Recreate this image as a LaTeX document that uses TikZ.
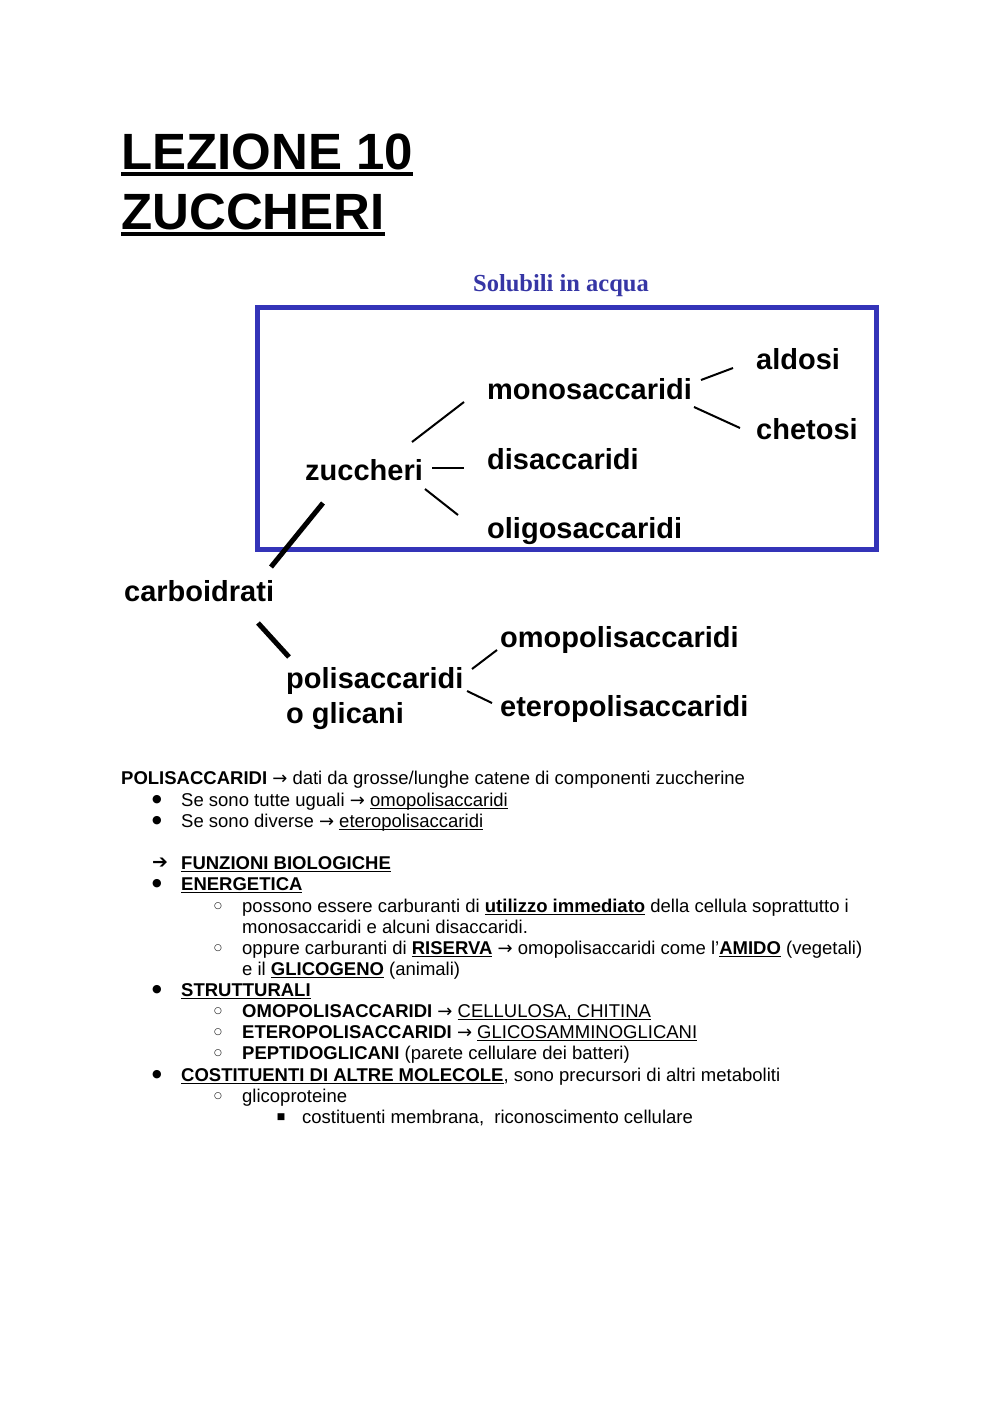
\documentclass[tikz,border=0pt]{standalone}
\usepackage{fontspec}
\setmainfont{Liberation Sans}
\newfontfamily\serifbf{Liberation Serif}
\newfontfamily\dejavu{DejaVu Sans}
\definecolor{boxblue}{RGB}{52,52,184}
\definecolor{txtblue}{RGB}{54,54,165}
\newcommand\ulin[2][1.1pt]{\mbox{\setbox0\hbox{#2}\rlap{\rule[-3.2pt]{\wd0}{#1}}\box0}}
\newcommand\ulti[1]{\mbox{\setbox0\hbox{#1}\rlap{\rule[-7pt]{\wd0}{4pt}}\box0}}
\newcommand\arr{{\dejavu\fontsize{18}{18}\selectfont →}}
\begin{document}
\begin{tikzpicture}[x=1pt,y=-1pt,
  title/.style={anchor=base west, inner sep=0pt, font=\fontsize{51}{60}\selectfont\bfseries},
  lbl/.style={anchor=base west, inner sep=0pt, font=\fontsize{29}{35}\selectfont\bfseries},
  link/.style={line width=2pt, line cap=butt},
  heavylink/.style={line width=5pt},
  body/.style={anchor=base west, inner sep=0pt, font=\fontsize{18.5}{21}\selectfont},
  bul/.style={anchor=center, inner sep=0pt, font=\dejavu\fontsize{11}{11}\selectfont},
  sbul/.style={anchor=center, inner sep=0pt, font=\dejavu\fontsize{9}{9}\selectfont},
]
\useasboundingbox (0,0) rectangle (1000,1413);

% Title
\node[title] (t1) at (121,169) {\ulti{LEZIONE 10}};
\node[title] (t2) at (121,229) {\ulti{ZUCCHERI}};

% Box
\node[anchor=base, inner sep=0pt, text=txtblue, font=\serifbf\fontsize{24.5}{28}\selectfont\bfseries] (sol) at (561,291) {Solubili in acqua};
\draw[boxblue, line width=5pt] (257,307) rectangle (876,549);

% Labels
\node[lbl] (ald) at (756,369) {aldosi};
\node[lbl] (mono) at (487,399) {monosaccaridi};
\node[lbl] (chet) at (756,439) {chetosi};
\node[lbl] (dis) at (487,469) {disaccaridi};
\node[lbl] (zuc) at (305,480) {zuccheri};
\node[lbl] (oli) at (487,538) {oligosaccaridi};
\node[lbl] (carb) at (124,601) {carboidrati};
\node[lbl, align=left] (poli) at (286,723) {polisaccaridi\\[-0.5pt]o glicani};
\node[lbl] (omo) at (500,647) {omopolisaccaridi};
\node[lbl] (ete) at (500,716) {eteropolisaccaridi};

% connector end points
\coordinate (m-a1) at (701,380); \coordinate (m-a2) at (733,368);
\coordinate (m-c1) at (694,407); \coordinate (m-c2) at (740,428);
\coordinate (z-m1) at (412,442); \coordinate (z-m2) at (464,402);
\coordinate (z-d1) at (432,468); \coordinate (z-d2) at (464,468);
\coordinate (z-o1) at (425,489); \coordinate (z-o2) at (458,515);
\coordinate (c-z1) at (271,567); \coordinate (c-z2) at (323,503);
\coordinate (c-p1) at (258,623); \coordinate (c-p2) at (289,657);
\coordinate (p-o1) at (472,669); \coordinate (p-o2) at (497,650);
\coordinate (p-e1) at (467,691); \coordinate (p-e2) at (492,703);

\draw[link] (m-a1) -- (m-a2);
\draw[link] (m-c1) -- (m-c2);
\draw[link] (z-m1) -- (z-m2);
\draw[link] (z-d1) -- (z-d2);
\draw[link] (z-o1) -- (z-o2);
\draw[heavylink] (c-z1) -- (c-z2);
\draw[heavylink] (c-p1) -- (c-p2);
\draw[link] (p-o1) -- (p-o2);
\draw[link] (p-e1) -- (p-e2);

% Body text
\node[body] (l1) at (121,784) {\textbf{POLISACCARIDI} \arr{} dati da grosse/lunghe catene di componenti zuccherine};
\node[bul] (b2) at (157,800) {●};
\node[body] (l2) at (181,806) {Se sono tutte uguali \arr{} \ulin{omopolisaccaridi}};
\node[bul] (b3) at (157,821) {●};
\node[body] (l3) at (181,827) {Se sono diverse \arr{} \ulin{eteropolisaccaridi}};
\node[bul, font=\dejavu\fontsize{19}{19}\selectfont] (b4) at (160,863) {➔};
\node[body] (l4) at (181,869) {\ulin[1.4pt]{\textbf{FUNZIONI BIOLOGICHE}}};
\node[bul] (b5) at (157,884) {●};
\node[body] (l5) at (181,890) {\ulin[1.4pt]{\textbf{ENERGETICA}}};
\node[sbul] (b6) at (218,906) {○};
\node[body] (l6) at (242,912) {possono essere carburanti di \ulin[1.4pt]{\textbf{utilizzo immediato}} della cellula soprattutto i};
\node[body] (l7) at (242,933) {monosaccaridi e alcuni disaccaridi.};
\node[sbul] (b8) at (218,948) {○};
\node[body] (l8) at (242,954) {oppure carburanti di \ulin[1.4pt]{\textbf{RISERVA}} \arr{} omopolisaccaridi come l’\ulin[1.4pt]{\textbf{AMIDO}} (vegetali)};
\node[body] (l9) at (242,975) {e il \ulin[1.4pt]{\textbf{GLICOGENO}} (animali)};
\node[bul] (b10) at (157,990) {●};
\node[body] (l10) at (181,996) {\ulin[1.4pt]{\textbf{STRUTTURALI}}};
\node[sbul] (b11) at (218,1011) {○};
\node[body] (l11) at (242,1017) {\textbf{OMOPOLISACCARIDI} \arr{} \ulin{CELLULOSA, CHITINA}};
\node[sbul] (b12) at (218,1032) {○};
\node[body] (l12) at (242,1038) {\textbf{ETEROPOLISACCARIDI} \arr{} \ulin{GLICOSAMMINOGLICANI}};
\node[sbul] (b13) at (218,1053) {○};
\node[body] (l13) at (242,1059) {\textbf{PEPTIDOGLICANI} (parete cellulare dei batteri)};
\node[bul] (b14) at (157,1075) {●};
\node[body] (l14) at (181,1081) {\ulin[1.4pt]{\textbf{COSTITUENTI DI ALTRE MOLECOLE}}, sono precursori di altri metaboliti};
\node[sbul] (b15) at (218,1096) {○};
\node[body] (l15) at (242,1102) {glicoproteine};
\node[sbul] (b16) at (281,1117) {■};
\node[body] (l16) at (302,1123) {costituenti membrana,\ \ riconoscimento cellulare};
\end{tikzpicture}
\end{document}
